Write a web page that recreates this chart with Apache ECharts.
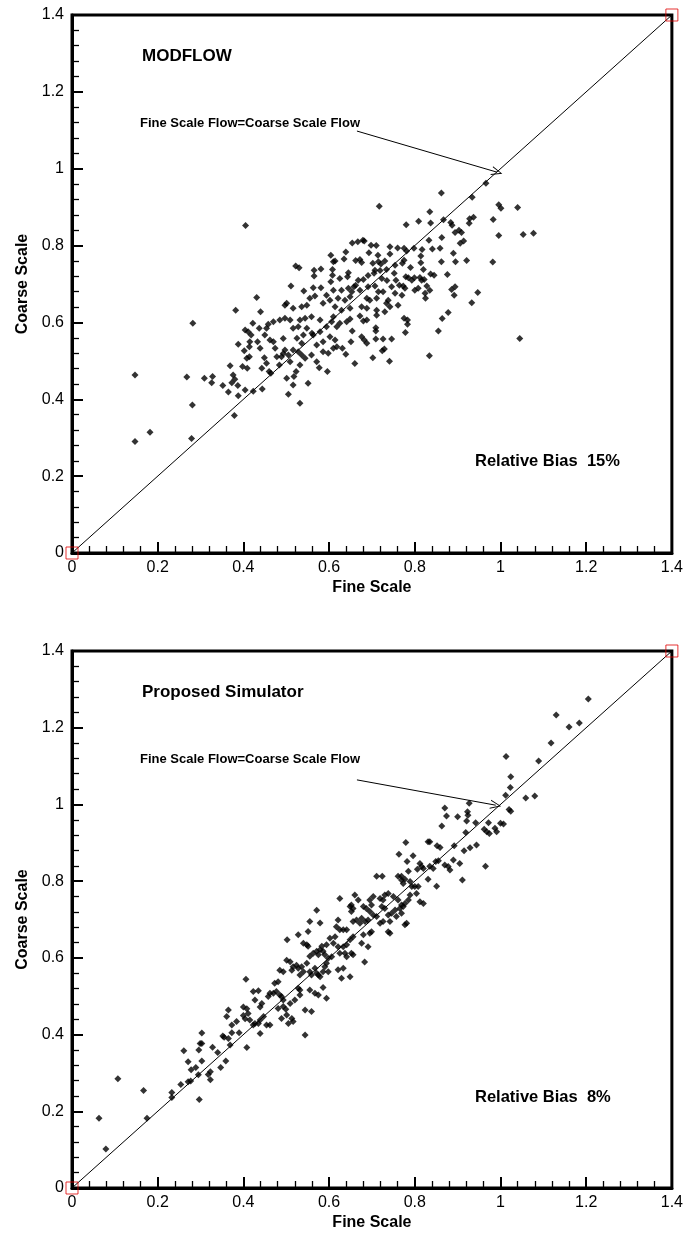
<!DOCTYPE html>
<html>
<head>
<meta charset="utf-8">
<script src="https://cdn.jsdelivr.net/npm/echarts@6/dist/echarts.min.js"></script>
<style>
html, body { margin: 0; padding: 0; background: #fff; }
#myEchartNode { width: 686px; height: 1236px; }
</style>
</head>
<body>
<div id="myEchartNode"></div>
<script>
; (function () {

    var axisMin = 0, axisMax = 1.4, axisStep = 0.2;
    var refLine = [[0, 0], [1.4, 1.4]];
    var cornerMarks = [[0, 0], [1.4, 1.4]];
    var panelTitles = ['MODFLOW', 'Proposed Simulator'];
    var biasLabels = ['Relative Bias  15%', 'Relative Bias  8%'];
    var arrowLabel = 'Fine Scale Flow=Coarse Scale Flow';
    // arrow from the label end to the 1:1 line
    var arrowTop = [[0.665, 1.098], [0.992, 0.991]];
    var arrowBottom = [[0.665, 1.064], [0.989, 0.998]];

    // MODFLOW (fine, coarse)
    var modflowPoints = [
        [0.405,0.852],[0.604,0.775],[0.61,0.758],[0.522,0.747],[0.53,0.742],[0.565,0.736],[0.581,0.739],[0.565,0.721],
        [0.608,0.738],[0.608,0.723],[0.511,0.695],[0.541,0.682],[0.563,0.69],[0.581,0.69],[0.604,0.706],[0.431,0.665],
        [0.382,0.632],[0.44,0.628],[0.555,0.663],[0.567,0.669],[0.548,0.645],[0.536,0.641],[0.501,0.65],[0.516,0.637],
        [0.497,0.645],[0.586,0.65],[0.594,0.671],[0.602,0.658],[0.61,0.684],
        [0.966,0.962],[0.862,0.937],[0.934,0.926],[0.717,0.902],[0.996,0.906],[1.001,0.897],[1.04,0.899],[0.835,0.888],
        [0.78,0.854],[0.809,0.863],[0.837,0.859],[0.867,0.867],[0.884,0.86],[0.887,0.853],[0.928,0.87],[0.937,0.874],
        [0.927,0.858],[0.983,0.868],[0.894,0.834],[0.903,0.84],[0.909,0.834],[0.996,0.826],[1.053,0.829],[1.077,0.832],
        [0.833,0.814],[0.863,0.821],[0.906,0.806],[0.914,0.812],[0.654,0.807],[0.667,0.81],[0.679,0.814],[0.682,0.812],
        [0.698,0.801],[0.71,0.8],[0.639,0.783],[0.742,0.797],[0.76,0.794],[0.775,0.793],[0.781,0.786],[0.798,0.793],
        [0.817,0.79],[0.841,0.791],[0.859,0.793],[0.693,0.781],[0.714,0.775],[0.742,0.778],[0.775,0.762],[0.814,0.773],
        [0.89,0.78],[0.862,0.758],[0.895,0.758],[0.921,0.761],[0.982,0.757],[0.635,0.765],[0.662,0.761],[0.672,0.764],
        [0.676,0.756],[0.702,0.754],[0.715,0.758],[0.721,0.752],[0.73,0.76],[0.614,0.76],[0.754,0.749],[0.771,0.754],
        [0.79,0.743],[0.814,0.755],[0.82,0.738],[0.707,0.736],[0.719,0.735],[0.734,0.738],[0.645,0.729],[0.643,0.719],
        [0.625,0.714],[0.668,0.71],[0.68,0.712],[0.662,0.697],[0.691,0.722],[0.705,0.728],[0.723,0.714],[0.735,0.709],
        [0.752,0.728],[0.756,0.71],[0.779,0.719],[0.785,0.716],[0.793,0.71],[0.799,0.716],[0.812,0.717],[0.816,0.71],
        [0.822,0.712],[0.837,0.726],[0.845,0.723],[0.876,0.725],[0.764,0.697],[0.773,0.695],[0.777,0.689],[0.828,0.695],
        [0.835,0.684],[0.886,0.686],[0.894,0.693],[0.892,0.671],[0.947,0.678],[0.933,0.651],[0.878,0.626],
        [0.629,0.684],[0.645,0.689],[0.658,0.693],[0.653,0.68],[0.672,0.684],[0.691,0.693],[0.707,0.695],[0.715,0.68],
        [0.726,0.68],[0.746,0.693],[0.754,0.676],[0.77,0.671],[0.8,0.684],[0.808,0.689],[0.824,0.676],[0.825,0.663],
        [0.621,0.663],[0.637,0.658],[0.649,0.667],[0.688,0.663],[0.695,0.658],[0.711,0.663],[0.734,0.65],[0.738,0.658],
        [0.742,0.641],[0.761,0.645],[0.614,0.641],[0.629,0.632],[0.649,0.637],[0.676,0.641],[0.688,0.637],[0.711,0.632],
        [0.73,0.628],
        [0.618,0.589],[0.625,0.598],[0.641,0.602],[0.649,0.609],[0.68,0.604],[0.688,0.606],[0.711,0.619],[0.672,0.617],
        [0.614,0.554],[0.618,0.537],[0.631,0.533],[0.639,0.517],[0.651,0.55],[0.654,0.578],[0.676,0.563],[0.682,0.554],
        [0.688,0.546],[0.709,0.586],[0.709,0.578],[0.709,0.557],[0.726,0.557],[0.746,0.557],[0.729,0.531],[0.724,0.526],
        [0.702,0.508],[0.66,0.493],[0.741,0.499],[0.775,0.611],[0.783,0.606],[0.783,0.595],[0.778,0.574],[0.864,0.61],
        [0.855,0.578],[0.834,0.513],[1.045,0.558],
        [0.282,0.598],[0.147,0.463],[0.268,0.458],[0.309,0.455],[0.328,0.459],[0.326,0.443],[0.352,0.436],[0.365,0.419],
        [0.376,0.463],[0.38,0.452],[0.373,0.443],[0.387,0.436],[0.388,0.409],[0.281,0.385],[0.379,0.358],[0.182,0.314],
        [0.147,0.29],[0.279,0.298],[0.404,0.424],[0.423,0.421],[0.444,0.427],[0.369,0.487],[0.398,0.485],[0.409,0.481],
        [0.388,0.543],[0.402,0.526],[0.414,0.537],[0.408,0.507],[0.414,0.511],[0.404,0.58],[0.411,0.576],[0.418,0.567],
        [0.422,0.598],[0.415,0.55],[0.433,0.55],[0.439,0.533],[0.449,0.508],[0.454,0.494],[0.443,0.481],[0.46,0.472],
        [0.464,0.468],[0.437,0.585],[0.454,0.585],[0.458,0.595],[0.47,0.602],[0.45,0.567],[0.462,0.554],[0.47,0.55],
        [0.474,0.533],[0.478,0.511],[0.489,0.511],[0.484,0.489],[0.493,0.519],[0.497,0.528],[0.505,0.515],[0.509,0.498],
        [0.493,0.558],[0.485,0.606],[0.497,0.611],[0.509,0.606],[0.516,0.585],[0.528,0.589],[0.532,0.606],[0.544,0.611],
        [0.548,0.585],[0.56,0.572],[0.54,0.567],[0.525,0.559],[0.536,0.546],[0.516,0.528],[0.528,0.524],[0.536,0.515],
        [0.532,0.489],[0.501,0.455],[0.518,0.459],[0.516,0.437],[0.505,0.413],[0.532,0.39],[0.551,0.442],[0.577,0.482],
        [0.596,0.472],[0.523,0.472],[0.563,0.567],[0.579,0.576],[0.571,0.541],[0.586,0.55],[0.602,0.563],[0.586,0.524],
        [0.598,0.52],[0.61,0.533],[0.559,0.515],[0.544,0.507],[0.571,0.498],[0.594,0.589],[0.606,0.602],[0.61,0.615],
        [0.579,0.606],[0.559,0.615]
    ];

    // Proposed simulator (fine, coarse)
    var simulatorPoints = [
        [0.063,0.182],[0.079,0.102],[0.107,0.285],[0.167,0.254],[0.175,0.182],[0.233,0.249],[0.233,0.236],[0.254,0.27],
        [0.261,0.358],[0.271,0.329],[0.278,0.308],[0.289,0.314],[0.271,0.277],[0.277,0.279],[0.297,0.231],[0.295,0.295],
        [0.296,0.36],[0.299,0.377],[0.303,0.377],[0.303,0.404],[0.303,0.331],[0.318,0.296],[0.323,0.303],[0.323,0.282],
        [0.328,0.367],[0.34,0.353],[0.347,0.314],[0.359,0.331],[0.352,0.396],[0.355,0.393],[0.365,0.39],[0.369,0.373],
        [0.373,0.405],[0.39,0.405],[0.408,0.366],[0.439,0.403],
        [0.373,0.425],[0.384,0.434],[0.4,0.472],[0.408,0.467],[0.4,0.45],[0.404,0.441],[0.411,0.455],[0.415,0.438],
        [0.423,0.425],[0.427,0.429],[0.435,0.429],[0.439,0.438],[0.447,0.447],[0.454,0.425],[0.462,0.425],[0.361,0.447],
        [0.365,0.464],[0.406,0.544],
        [0.423,0.512],[0.435,0.514],[0.427,0.49],[0.439,0.472],[0.443,0.481],[0.458,0.499],[0.462,0.508],[0.47,0.508],
        [0.477,0.512],[0.473,0.534],[0.481,0.538],[0.485,0.503],[0.489,0.499],[0.493,0.49],[0.481,0.468],[0.493,0.473],
        [0.499,0.466],[0.501,0.451],[0.489,0.442],[0.505,0.429],[0.513,0.442],[0.516,0.434],[0.509,0.481],[0.52,0.49],
        [0.532,0.516],[0.528,0.521],[0.532,0.503],[0.544,0.464],[0.555,0.516],[0.567,0.508],[0.575,0.503],[0.544,0.399],
        [0.559,0.46],[0.594,0.495],[0.586,0.523],
        [0.485,0.568],[0.493,0.564],[0.501,0.594],[0.509,0.59],[0.513,0.568],[0.516,0.577],[0.524,0.581],[0.528,0.573],
        [0.536,0.577],[0.54,0.564],[0.532,0.555],[0.548,0.586],[0.555,0.564],[0.559,0.555],[0.567,0.573],[0.571,0.56],
        [0.575,0.555],[0.579,0.551],[0.586,0.564],[0.59,0.577],[0.594,0.586],[0.598,0.564],[0.502,0.647],[0.528,0.66],
        [0.54,0.638],[0.548,0.634],[0.551,0.63],[0.555,0.604],[0.563,0.612],[0.571,0.617],[0.575,0.608],[0.579,0.621],
        [0.583,0.63],[0.586,0.617],[0.59,0.608],[0.598,0.599],[0.594,0.634],[0.551,0.669],[0.555,0.695],[0.571,0.724],
        [0.579,0.691],[0.621,0.569],[0.629,0.547],[0.633,0.573],[0.649,0.551],[0.683,0.589],
        [1.012,1.024],[0.927,1.003],[0.87,0.991],[0.874,0.97],[0.9,0.968],[0.923,0.981],[0.924,0.972],[0.921,0.957],
        [0.942,0.952],[0.972,0.952],[1.0,0.951],[1.007,0.949],[0.962,0.935],[0.968,0.929],[0.974,0.924],[0.987,0.938],
        [0.991,0.929],[0.863,0.944],[0.919,0.927],[0.779,0.901],[0.831,0.903],[0.835,0.903],[0.852,0.892],[0.859,0.888],
        [0.892,0.892],[0.915,0.879],[0.929,0.887],[0.944,0.894],[0.965,0.839],[0.911,0.803],
        [0.763,0.87],[0.796,0.866],[0.782,0.851],[0.812,0.846],[0.816,0.838],[0.806,0.831],[0.82,0.833],[0.835,0.839],
        [0.843,0.833],[0.849,0.851],[0.855,0.853],[0.87,0.842],[0.878,0.838],[0.882,0.829],[0.89,0.855],[0.905,0.846],
        [0.851,0.787],[0.831,0.805],[0.785,0.826],[0.769,0.813],
        [0.711,0.813],[0.724,0.813],[0.761,0.813],[0.769,0.803],[0.777,0.805],[0.773,0.794],[0.789,0.799],[0.793,0.786],
        [0.8,0.786],[0.808,0.786],[0.804,0.768],[0.789,0.764],[0.785,0.751],[0.777,0.742],[0.769,0.738],[0.761,0.751],
        [0.75,0.76],[0.738,0.768],[0.73,0.764],[0.726,0.751],[0.719,0.755],[0.703,0.76],[0.695,0.751],[0.699,0.738],
        [0.687,0.729],[0.68,0.734],[0.668,0.751],[0.66,0.764],[0.652,0.738],[0.656,0.729],[0.625,0.755],[0.812,0.746],
        [0.82,0.742],
        [0.723,0.734],[0.73,0.729],[0.738,0.712],[0.746,0.716],[0.754,0.725],[0.765,0.729],[0.773,0.734],[0.769,0.716],
        [0.757,0.708],[0.742,0.695],[0.726,0.695],[0.719,0.69],[0.711,0.708],[0.703,0.712],[0.695,0.721],[0.691,0.699],
        [0.684,0.695],[0.676,0.703],[0.672,0.69],[0.664,0.699],[0.656,0.695],[0.652,0.721],[0.649,0.734],[0.777,0.686],
        [0.781,0.69],[0.699,0.668],[0.695,0.664],[0.742,0.664],[0.738,0.668],[0.68,0.66],[0.676,0.638],[0.691,0.629],
        [0.656,0.655],[0.649,0.647],[0.641,0.634],[0.633,0.629],[0.621,0.629],[0.625,0.612],[0.637,0.612],[0.641,0.603],
        [0.652,0.612],[0.656,0.608],[0.614,0.655],[0.602,0.651],[0.61,0.638],[0.617,0.681],[0.621,0.699],[0.633,0.673],
        [0.641,0.673],[0.606,0.603],[0.625,0.673],
        [1.205,1.275],[1.13,1.233],[1.16,1.202],[1.184,1.212],[1.118,1.16],[1.013,1.125],[1.089,1.113],[1.024,1.072],
        [1.023,1.044],[1.059,1.017],[1.08,1.022],[1.02,0.987],[1.024,0.982]
    ];

    var fontName = 'Liberation Sans, Arial, sans-serif';

    function makeX(i) {
        return {
            type: 'value', gridIndex: i, min: axisMin, max: axisMax, interval: axisStep,
            name: 'Fine Scale', nameLocation: 'middle', nameGap: 27,
            nameTextStyle: { color: '#000', fontSize: 16, fontWeight: 'bold', fontFamily: fontName },
            axisLine: { show: true, onZero: false, lineStyle: { color: '#000', width: 3 } },
            axisTick: { show: true, inside: true, length: 11, lineStyle: { color: '#000', width: 2 } },
            minorTick: { show: true, splitNumber: 5, length: 7, lineStyle: { color: '#000', width: 1.3 } },
            axisLabel: { color: '#000', fontSize: 16, fontFamily: fontName, margin: 7 },
            splitLine: { show: false }
        };
    }
    function makeY(i) {
        return {
            type: 'value', gridIndex: i, min: axisMin, max: axisMax, interval: axisStep,
            name: 'Coarse Scale', nameLocation: 'middle', nameGap: 41,
            nameTextStyle: { color: '#000', fontSize: 16, fontWeight: 'bold', fontFamily: fontName },
            axisLine: { show: true, onZero: false, lineStyle: { color: '#000', width: 3 } },
            axisTick: { show: true, inside: true, length: 11, lineStyle: { color: '#000', width: 2 } },
            minorTick: { show: true, splitNumber: 5, length: 7, lineStyle: { color: '#000', width: 1.3 } },
            axisLabel: { color: '#000', fontSize: 16, fontFamily: fontName, margin: 8 },
            splitLine: { show: false }
        };
    }
    function makeSeries(i, pts, arrow) {
        return [
            {
                type: 'line', xAxisIndex: i, yAxisIndex: i, data: refLine,
                symbol: 'none', silent: true, z: 3,
                lineStyle: { color: '#000', width: 1 },
                markLine: {
                    silent: true, animation: false,
                    symbol: ['none', 'path://M5,0 L10,10 L9,10 L5,2 L1,10 L0,10 Z'],
                    symbolSize: [9, 11],
                    label: { show: false },
                    lineStyle: { color: '#000', width: 1, type: 'solid' },
                    data: [[{ coord: arrow[0] }, { coord: arrow[1] }]]
                }
            },
            {
                type: 'scatter', xAxisIndex: i, yAxisIndex: i, data: pts,
                symbol: 'diamond', symbolSize: 7, z: 4,
                itemStyle: { color: '#000' }
            },
            {
                type: 'scatter', xAxisIndex: i, yAxisIndex: i, data: cornerMarks,
                symbol: 'rect', symbolSize: 12, clip: false, z: 5,
                itemStyle: { color: 'rgba(0,0,0,0)', borderColor: '#e00000', borderWidth: 1 }
            }
        ];
    }
    function label(text, left, top, size) {
        return {
            type: 'text', left: left, top: top, z: 10,
            style: { text: text, fill: '#000', font: 'bold ' + size + 'px ' + fontName }
        };
    }

    var myEchartObj = echarts.init(document.getElementById('myEchartNode'));
    var option = {
        backgroundColor: '#fff',
        animation: false,
        grid: [
            { left: 72, right: 14, top: 15, height: 538, show: true, borderColor: '#000', borderWidth: 3 },
            { left: 72, right: 14, top: 651, height: 537, show: true, borderColor: '#000', borderWidth: 3 }
        ],
        xAxis: [makeX(0), makeX(1)],
        yAxis: [makeY(0), makeY(1)],
        series: makeSeries(0, modflowPoints, arrowTop).concat(makeSeries(1, simulatorPoints, arrowBottom)),
        graphic: [
            label(panelTitles[0], 142, 48, 17),
            label(arrowLabel, 140, 117, 13),
            label(biasLabels[0], 475, 453, 16.5),
            label(panelTitles[1], 142, 684, 17),
            label(arrowLabel, 140, 753, 13),
            label(biasLabels[1], 475, 1089, 16.5)
        ]
    };
    myEchartObj.setOption(option);
})();
</script>
</body>
</html>
